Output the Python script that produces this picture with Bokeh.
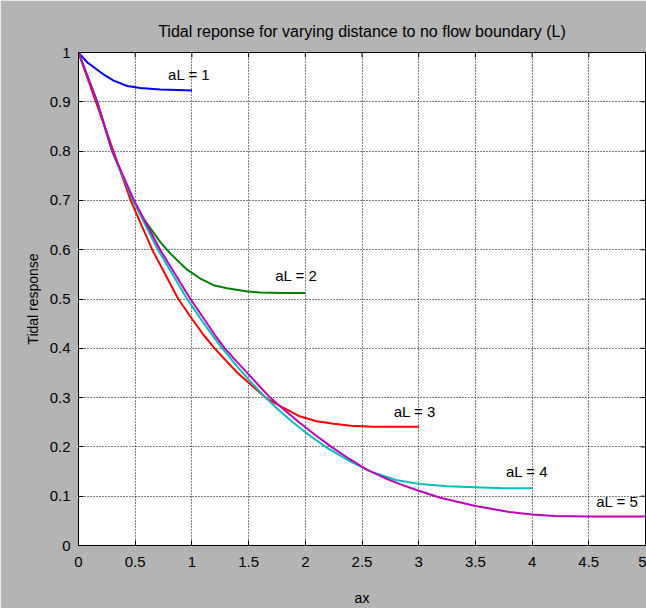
from math import pi
from bokeh.plotting import figure
from bokeh.models import Range1d, FixedTicker
from bokeh.core.properties import value
from bokeh.embed import file_html
from bokeh.resources import INLINE

# ---- data ----
x_ticks = [0, 0.5, 1, 1.5, 2, 2.5, 3, 3.5, 4, 4.5, 5]
x_tick_labels = ["0", "0.5", "1", "1.5", "2", "2.5", "3", "3.5", "4", "4.5", "5"]
y_ticks = [0, 0.1, 0.2, 0.3, 0.4, 0.5, 0.6, 0.7, 0.8, 0.9, 1.0]
y_tick_labels = ["0", "0.1", "0.2", "0.3", "0.4", "0.5", "0.6", "0.7", "0.8", "0.9", "1"]

x_al1 = [0, 0.077, 0.136, 0.224, 0.31, 0.43, 0.547, 0.72, 0.87, 1.0]
y_al1 = [1.0, 0.98, 0.97, 0.955, 0.943, 0.932, 0.928, 0.925, 0.924, 0.923]

x_al2 = [0, 0.165, 0.297, 0.48, 0.56, 0.72, 0.81, 0.96, 1.07, 1.19, 1.31, 1.49, 1.60, 1.8, 2.0]
y_al2 = [1.0, 0.9, 0.8, 0.7, 0.667, 0.616, 0.592, 0.559, 0.542, 0.528, 0.522, 0.515, 0.513, 0.512, 0.512]

x_al3 = [0, 0.1, 0.2, 0.3, 0.46, 0.65, 0.88, 1.0, 1.1, 1.2, 1.3, 1.4, 1.52, 1.66, 1.81, 1.95, 2.10, 2.25, 2.40, 2.6, 2.8, 3.0]
y_al3 = [1.0, 0.935, 0.87, 0.805, 0.70, 0.60, 0.50, 0.46, 0.428, 0.40, 0.375, 0.351, 0.326, 0.298, 0.279, 0.262, 0.252, 0.247, 0.243, 0.241, 0.241, 0.241]

x_al4 = [0, 0.165, 0.297, 0.48, 0.70, 0.958, 1.1, 1.25, 1.4, 1.5, 1.62, 1.75, 1.9, 2.05, 2.2, 2.4, 2.6, 2.8, 3.0, 3.25, 3.5, 3.75, 4.0]
y_al4 = [1.0, 0.9, 0.8, 0.7, 0.6, 0.5, 0.452, 0.405, 0.363, 0.337, 0.307, 0.278, 0.248, 0.221, 0.197, 0.170, 0.148, 0.133, 0.125, 0.120, 0.118, 0.116, 0.116]

x_al5 = [0, 0.165, 0.297, 0.49, 0.72, 0.987, 1.1, 1.2, 1.29, 1.4, 1.5, 1.6, 1.69, 1.8, 1.95, 2.1, 2.23, 2.4, 2.54, 2.7, 2.84, 3.0, 3.19, 3.5, 3.8, 4.0, 4.2, 4.5, 5.0]
y_al5 = [1.0, 0.9, 0.8, 0.7, 0.6, 0.5, 0.462, 0.428, 0.40, 0.372, 0.347, 0.322, 0.30, 0.278, 0.249, 0.222, 0.2, 0.174, 0.154, 0.137, 0.124, 0.111, 0.097, 0.080, 0.068, 0.063, 0.060, 0.059, 0.059]

label_text = ["aL = 1", "aL = 2", "aL = 3", "aL = 4", "aL = 5"]
label_x = [0.79, 1.735, 2.78, 3.77, 4.565]
label_y = [0.955, 0.547, 0.271, 0.150, 0.09]

series_x = [x_al1, x_al2, x_al3, x_al4, x_al5]
series_y = [y_al1, y_al2, y_al3, y_al4, y_al5]
colors = ["#0000ff", "#008000", "#ff0000", "#00bfbf", "#bf00bf"]

FONT = "Liberation Sans"
BG = "#b4b4b4"

p = figure(width=646, height=608,
           x_range=Range1d(0, 5), y_range=Range1d(0, 1),
           output_backend="svg", toolbar_location=None,
           min_border_left=78, min_border_right=1,
           min_border_top=52, min_border_bottom=62,
           border_fill_color=BG, background_fill_color="white",
           outline_line_color="black", outline_line_width=1)

p.title.text = "Tidal reponse for varying distance to no flow boundary (L)"
p.title.align = "center"
p.title.text_font = FONT
p.title.text_font_size = "16px"
p.title.text_font_style = "normal"
p.title.text_color = "black"
p.title.standoff = 25

for ax, ticks, labels in ((p.xaxis[0], x_ticks, x_tick_labels), (p.yaxis[0], y_ticks, y_tick_labels)):
    ax.ticker = FixedTicker(ticks=ticks)
    ax.major_label_overrides = {t: l for t, l in zip(ticks, labels)}
    ax.major_tick_in = 5
    ax.major_tick_out = 0
    ax.minor_tick_line_color = None
    ax.axis_line_color = "black"
    ax.major_tick_line_color = "black"
    ax.major_label_text_font = FONT
    ax.major_label_text_font_size = "15px"
    ax.major_label_text_color = "black"
    ax.axis_label_text_font = FONT
    ax.axis_label_text_font_size = "14px"
    ax.axis_label_text_font_style = "normal"
    ax.axis_label_text_color = "black"

p.xaxis.major_label_standoff = 11
p.yaxis.major_label_standoff = 8
p.xaxis.axis_label = "ax"
p.yaxis.axis_label = "Tidal response"
p.xaxis.axis_label_standoff = 20
p.yaxis.axis_label_standoff = 6

p.xgrid.ticker = FixedTicker(ticks=x_ticks)
p.ygrid.ticker = FixedTicker(ticks=y_ticks)
for g in (p.xgrid[0], p.ygrid[0]):
    g.grid_line_color = "black"
    g.grid_line_dash = "1 2"
    g.grid_line_width = 1

# inward tick marks on the top and right edges of the box (half of each dash is clipped)
p.scatter(x=x_ticks, y=[1.0] * len(x_ticks), marker="dash", angle=pi / 2,
          size=10, line_color="black", line_width=1)
p.scatter(x=[5.0] * len(y_ticks), y=y_ticks, marker="dash",
          size=10, line_color="black", line_width=1)

for xs, ys, c in zip(series_x, series_y, colors):
    p.line(xs, ys, line_color=c, line_width=2)

p.text(x=label_x, y=label_y, text=label_text, text_font=value(FONT),
       text_font_size="15px", text_color="black",
       text_align="left", text_baseline="middle")

open("out.html", "w").write(file_html(p, INLINE))
